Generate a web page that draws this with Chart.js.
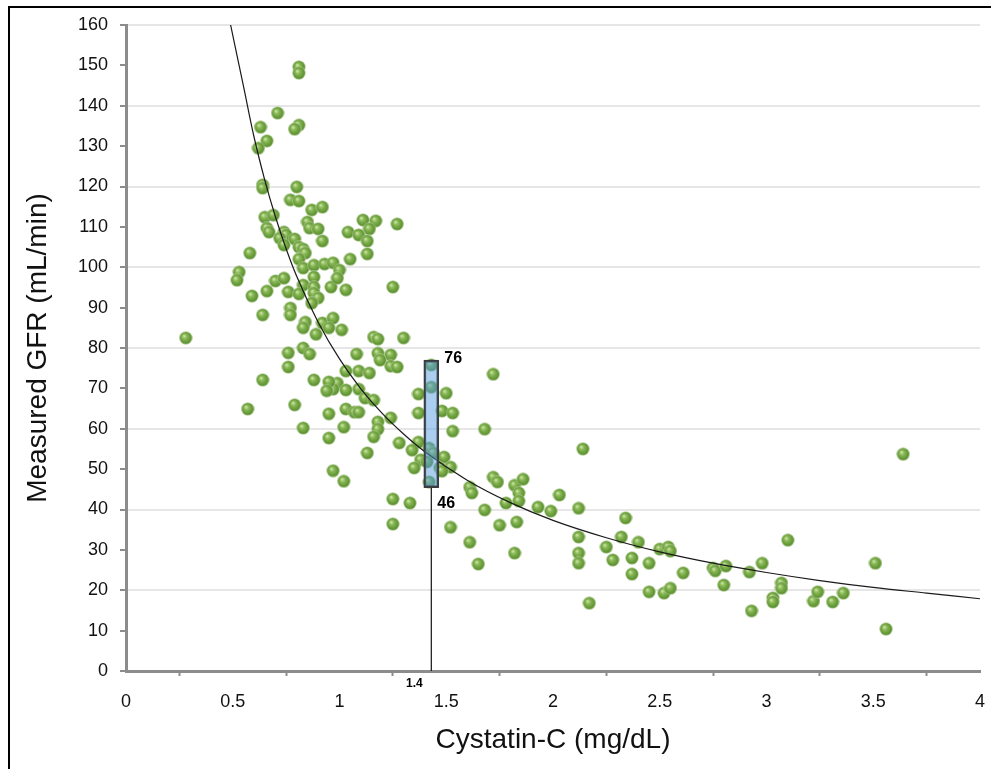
<!DOCTYPE html>
<html>
<head>
<meta charset="utf-8">
<title>Cystatin-C vs Measured GFR</title>
<script src="https://cdn.jsdelivr.net/npm/chart.js@4/dist/chart.umd.min.js"></script>
<style>
    html, body { margin: 0; padding: 0; background: #fff; }
    #wrap { position: relative; width: 991px; height: 769px; }
    #frame {
        position: absolute; left: 8px; top: 6px; width: 1200px; height: 1200px;
        border-top: 2px solid #000; border-left: 2px solid #000;
        pointer-events: none;
    }
</style>
</head>
<body>
<div id="wrap">
    <canvas id="gfr-chart" width="991" height="769"></canvas>
    <div id="frame"></div>
</div>
<script>
// 数据：胱抑素C (mg/dL) 与实测 GFR (mL/min)
const cystatinC = [
    0.81, 0.81, 0.71, 0.63, 0.81, 0.79, 0.66, 0.62, 0.64, 0.64,
    0.80, 0.77, 0.81, 0.87, 0.92, 0.65, 0.69, 0.85, 0.86, 0.90,
    0.66, 0.67, 0.74, 0.75, 0.72, 0.79, 0.92, 0.74, 0.81, 0.83,
    0.84, 0.81, 0.83, 0.58, 0.53, 0.52, 0.88, 0.93, 0.88, 0.70,
    0.74, 0.83, 0.88, 0.88, 0.96, 0.66, 0.59, 0.76, 0.81, 0.90,
    0.77, 0.77, 0.87, 0.64, 0.84, 0.83, 0.89, 0.92, 1.11, 1.17,
    1.14, 1.04, 1.09, 1.27, 1.13, 1.13, 1.05, 0.97, 1.00, 0.99,
    1.03, 1.25, 0.97, 0.95, 1.01, 1.30, 1.16, 1.18, 1.08, 1.18,
    1.24, 1.19, 1.24, 1.27, 1.03, 1.09, 1.14, 1.43, 1.43, 0.99,
    1.03, 0.97, 1.09, 1.12, 1.16, 1.37, 1.50, 1.03, 1.07, 1.09,
    1.37, 1.48, 1.53, 1.18, 1.24, 1.18, 1.16, 1.02, 1.53, 1.68,
    1.28, 1.37, 1.34, 1.42, 1.44, 1.13, 1.38, 1.41, 1.49, 1.52,
    1.47, 1.35, 0.97, 1.02, 1.42, 1.25, 1.33, 1.25, 0.64, 0.57,
    0.76, 0.76, 0.83, 0.86, 0.88, 0.95, 0.94, 0.79, 0.95, 0.83,
    0.95, 0.28, 1.72, 2.14, 1.48, 1.61, 1.62, 1.72, 1.74, 1.82,
    1.86, 1.84, 1.84, 1.78, 1.68, 1.93, 1.99, 2.03, 2.12, 1.52,
    1.75, 1.83, 1.61, 1.65, 1.82, 2.12, 2.12, 2.12, 2.17, 2.25,
    2.28, 2.32, 2.34, 2.37, 2.37, 2.40, 2.45, 2.45, 2.50, 2.54,
    2.55, 2.52, 2.55, 2.61, 2.75, 2.76, 2.81, 2.80, 2.92, 2.93,
    2.98, 3.03, 3.03, 3.07, 3.07, 3.10, 3.22, 3.24, 3.31, 3.36,
    3.51, 3.56, 3.64
];
const measuredGFR = [
    149.6, 148.1, 138.2, 134.7, 135.2, 134.2, 131.3, 129.5, 120.4, 119.6,
    119.9, 116.7, 116.4, 114.2, 114.9, 112.4, 112.9, 111.2, 109.7, 109.5,
    109.7, 108.7, 108.7, 108.0, 107.2, 107.0, 106.5, 105.5, 105.0, 104.5,
    103.5, 102.0, 99.8, 103.5, 98.8, 96.8, 100.5, 100.8, 97.6, 96.6,
    97.3, 95.6, 95.1, 93.6, 95.1, 94.1, 92.9, 93.9, 93.4, 92.4,
    89.9, 88.2, 91.1, 88.2, 86.4, 85.0, 83.4, 86.2, 111.7, 111.5,
    109.5, 108.7, 108.0, 110.7, 106.5, 103.3, 102.0, 101.1, 99.3, 97.3,
    94.4, 95.1, 87.4, 85.0, 84.5, 82.5, 82.7, 82.2, 78.5, 78.7,
    78.3, 77.0, 75.5, 75.3, 74.3, 74.3, 73.8, 75.8, 70.3, 71.3,
    69.6, 69.8, 69.8, 67.6, 67.1, 68.6, 68.8, 64.9, 64.1, 64.1,
    63.9, 64.4, 63.9, 61.7, 62.7, 59.9, 58.0, 60.4, 59.4, 59.9,
    56.5, 56.7, 54.7, 55.2, 54.0, 54.0, 52.3, 51.8, 53.0, 50.5,
    50.3, 50.3, 49.6, 47.0, 46.8, 42.6, 41.6, 36.4, 72.1, 64.9,
    78.8, 75.3, 80.0, 78.5, 72.1, 71.6, 69.4, 65.9, 63.7, 60.2,
    57.7, 82.5, 73.5, 55.0, 49.5, 45.5, 44.1, 48.0, 46.8, 46.0,
    47.5, 44.1, 42.1, 41.6, 39.9, 40.6, 39.6, 43.6, 40.3, 35.6,
    36.1, 36.9, 31.9, 26.5, 29.2, 33.2, 29.2, 26.7, 16.8, 30.7,
    27.5, 33.2, 37.9, 24.0, 28.0, 31.9, 26.7, 19.6, 30.2, 30.7,
    29.7, 19.3, 20.5, 24.3, 25.5, 24.8, 26.0, 21.3, 24.5, 14.9,
    26.7, 18.1, 17.1, 21.8, 20.5, 32.4, 17.3, 19.6, 17.1, 19.3,
    26.7, 10.4, 53.7
];

// 拟合曲线
const curveX = [0.49, 0.55, 0.6, 0.65, 0.7, 0.75, 0.8, 0.9, 1.0, 1.1, 1.2, 1.3,
                1.4, 1.6, 1.8, 2.0, 2.25, 2.5, 2.75, 3.0, 3.25, 3.5, 3.75, 4.0];
const curveY = [160, 144.9, 132.2, 121.6, 112.5, 104.6, 97.7, 86.4, 77.3, 69.9, 63.8, 58.7,
                54.3, 47.2, 41.7, 37.3, 33.0, 29.5, 26.7, 24.4, 22.4, 20.7, 19.3, 17.9];

// 胱抑素C = 1.4 处的区间
const boxX = 1.43;
const boxLow = 45.4;
const boxHigh = 77;
const boxLabels = ['76', '46'];
const markerLabel = '1.4';

// 坐标轴
const xMin = 0, xMax = 4, xStep = 0.5;
const yMin = 0, yMax = 160, yStep = 10;

document.addEventListener('DOMContentLoaded', function() {
    const canvas = document.getElementById('gfr-chart');
    const fontFamily = '"Liberation Sans", Arial, Helvetica, sans-serif';

    // 绿色小球
    const ball = document.createElement('canvas');
    ball.width = 14;
    ball.height = 14;
    const bctx = ball.getContext('2d');
    const grad = bctx.createRadialGradient(5.2, 5.0, 0.5, 7, 7, 6.8);
    grad.addColorStop(0, '#c6e3a0');
    grad.addColorStop(0.3, '#8ab856');
    grad.addColorStop(0.75, '#629736');
    grad.addColorStop(1, '#4f7f28');
    bctx.fillStyle = grad;
    bctx.beginPath();
    bctx.arc(7, 7, 6.3, 0, Math.PI * 2);
    bctx.fill();
    bctx.strokeStyle = 'rgba(190, 215, 160, 0.9)';
    bctx.lineWidth = 0.8;
    bctx.stroke();

    const points = cystatinC.map((c, i) => ({ x: c, y: measuredGFR[i] }));
    const curve = curveX.map((c, i) => ({ x: c, y: curveY[i] }));

    // 区间标签
    const labelPlugin = {
        id: 'boxLabels',
        afterDatasetsDraw(chart) {
            const { ctx, scales: { x, y } } = chart;
            const px = x.getPixelForValue(boxX);
            ctx.save();
            ctx.fillStyle = '#000';
            ctx.textBaseline = 'middle';
            ctx.textAlign = 'left';
            ctx.font = 'bold 16px ' + fontFamily;
            ctx.fillText(boxLabels[0], px + 13, y.getPixelForValue(boxHigh) - 2);
            ctx.fillText(boxLabels[1], px + 6, y.getPixelForValue(boxLow) + 16);
            ctx.font = 'bold 12px ' + fontFamily;
            ctx.textAlign = 'center';
            ctx.fillText(markerLabel, px - 17, chart.chartArea.bottom + 13);
            ctx.restore();
        }
    };

    new Chart(canvas, {
        type: 'scatter',
        data: {
            datasets: [
                {
                    type: 'bar',
                    data: [{ x: boxX, y: [boxLow, boxHigh] }],
                    backgroundColor: 'rgba(85, 155, 225, 0.5)',
                    borderColor: '#3c3c3c',
                    borderWidth: 2,
                    borderSkipped: false,
                    barThickness: 15,
                    order: 0
                },
                {
                    type: 'line',
                    data: [{ x: boxX, y: yMin }, { x: boxX, y: boxLow }],
                    borderColor: '#111',
                    borderWidth: 1.2,
                    pointRadius: 0,
                    order: 1
                },
                {
                    type: 'line',
                    data: curve,
                    borderColor: '#1a1a1a',
                    borderWidth: 1.2,
                    pointRadius: 0,
                    cubicInterpolationMode: 'monotone',
                    order: 2
                },
                {
                    type: 'scatter',
                    data: points,
                    pointStyle: ball,
                    pointRadius: 6,
                    order: 3
                }
            ]
        },
        options: {
            responsive: false,
            animation: false,
            layout: { padding: { top: 25, right: 11, left: 0, bottom: 0 } },
            plugins: {
                legend: { display: false },
                tooltip: { enabled: false }
            },
            scales: {
                x: {
                    type: 'linear',
                    min: xMin,
                    max: xMax,
                    offset: false,
                    afterFit: function(scale) {
                        scale.height = 98;
                        scale.paddingRight = 0;
                    },
                    ticks: {
                        stepSize: xStep,
                        color: '#111',
                        padding: 15,
                        font: { family: fontFamily, size: 18 },
                        callback: function(value) { return String(value); }
                    },
                    grid: {
                        drawOnChartArea: false,
                        tickColor: '#8c8c8c',
                        tickLength: 5,
                        tickWidth: 2
                    },
                    border: { color: '#8c8c8c', width: 3 },
                    title: {
                        display: true,
                        text: 'Cystatin-C (mg/dL)',
                        color: '#111',
                        font: { family: fontFamily, size: 28 },
                        padding: { top: 0, bottom: 12 }
                    }
                },
                y: {
                    min: yMin,
                    max: yMax,
                    afterFit: function(scale) { scale.width = 126; },
                    ticks: {
                        stepSize: yStep,
                        color: '#111',
                        padding: 12,
                        font: { family: fontFamily, size: 18 }
                    },
                    grid: {
                        color: function(ctx) {
                            const v = ctx.tick ? ctx.tick.value : 0;
                            return (v > 0 && v % 20 === 0) ? '#e6e6e6' : 'rgba(0,0,0,0)';
                        },
                        lineWidth: 2,
                        tickColor: '#8c8c8c',
                        tickLength: 6,
                        tickWidth: 2
                    },
                    border: { color: '#8c8c8c', width: 3 },
                    title: {
                        display: true,
                        text: 'Measured GFR (mL/min)',
                        color: '#111',
                        font: { family: fontFamily, size: 28 },
                        padding: { top: 21, bottom: 0 }
                    }
                }
            }
        },
        plugins: [labelPlugin]
    });
});
</script>
</body>
</html>
